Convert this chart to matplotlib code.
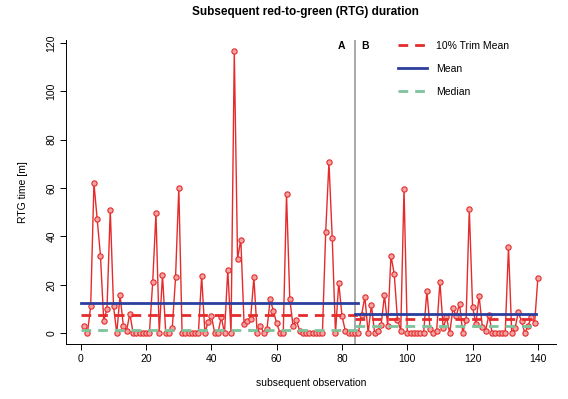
import numpy as np
import matplotlib
matplotlib.use("Agg")
import matplotlib.pyplot as plt

plt.rcParams["font.family"] = ["Liberation Sans", "DejaVu Sans"]

# RTG durations, segment A (obs 1-84) and segment B (obs 85-140)
rtg_a = [3, 0, 11, 62, 47, 32, 5, 10, 51, 11,
         0, 15.7, 3, 1, 8, 0, 0, 0, 0, 0,
         0, 21, 49.6, 0, 24, 0, 0, 2, 23, 60,
         0, 0, 0, 0, 0, 0, 23.7, 0, 4.7, 7,
         0, 0, 6.6, 0, 26, 0, 116.5, 30.7, 38.7, 3.6,
         5, 6, 23, 0, 3, 0, 1.5, 14, 9, 4,
         0, 0, 57.5, 14, 3, 5.5, 1, 0, 0, 0,
         0, 0, 0, 0, 41.7, 70.7, 39.5, 0, 20.8, 7,
         1, 0, 0, 0]
rtg_b = [0, 7.4, 15, 0, 11.6, 0, 1, 3.5, 15.7, 3,
         32, 24.4, 5.6, 1, 59.8, 0, 0, 0, 0, 0,
         0, 17.4, 1.5, 0, 1, 21.2, 2, 6.6, 0, 10.2,
         7, 12.2, 0, 5.4, 51.2, 10.9, 3.7, 15.3, 2.5, 1,
         7.6, 0, 0, 0, 0, 0, 35.5, 0, 2, 8.5,
         5, 0, 3, 6.5, 4, 22.6]

# summary levels per segment: (mean, 10% trim mean, median)
stats_a = (12.3, 7.6, 1.2)
stats_b = (8.0, 5.7, 3.0)
split_at = 84

rtg = np.array(rtg_a + rtg_b)
obs = np.arange(1, len(rtg) + 1)

fig = plt.figure(figsize=(5.68, 3.99), dpi=100)
ax = fig.add_axes([66 / 568, 1 - 344.3 / 399, 490 / 568, 304.1 / 399])

red = "#E52B2B"
blue = "#2B3E9E"
green = "#7CC49A"

ax.plot(obs, rtg, color=red, lw=1, marker="o", ms=3.8,
        mfc="#F4A3A3", mec=red, mew=0.8, zorder=3)

ax.axvline(split_at, color="#9A9A9A", lw=1.2, zorder=1)

# segment summary lines
segs = [(0, split_at + 1, stats_a), (split_at, obs[-1] - 0.5, stats_b)]
for i, (x0, x1, (mean, trim, med)) in enumerate(segs):
    ax.plot([x0, x1], [trim, trim], color=red, lw=2, dashes=(3.5, 2.5),
            label="10% Trim Mean" if i == 0 else None, zorder=4)
    ax.plot([x0, x1], [mean, mean], color=blue, lw=2,
            label="Mean" if i == 0 else None, zorder=4)
    ax.plot([x0, x1], [med, med], color=green, lw=2, dashes=(3.5, 2.5),
            label="Median" if i == 0 else None, zorder=4)

ax.text(79.7, 118.8, "A", fontsize=7.5, fontweight="bold", ha="center", va="center")
ax.text(87, 118.8, "B", fontsize=7.5, fontweight="bold", ha="center", va="center")

n = len(rtg)
pad_x = 0.04 * (n - 1)
pad_y = 0.04 * rtg.max()
ax.set_xlim(1 - pad_x, n + pad_x)
ax.set_ylim(-pad_y, rtg.max() + pad_y)

ax.set_xticks(np.arange(0, 141, 20))
ax.set_yticks(np.arange(0, 121, 20))
for lab in ax.get_yticklabels():
    lab.set_rotation(90)
    lab.set_va("center")
ax.tick_params(labelsize=7.5, length=4, width=0.7, direction="out", pad=3)
for side in ["top", "right"]:
    ax.spines[side].set_visible(False)
for side in ["left", "bottom"]:
    ax.spines[side].set_linewidth(0.7)

ax.set_xlabel("subsequent observation", fontsize=7.5, labelpad=10)
ax.set_ylabel("RTG time [m]", fontsize=7.5, labelpad=13)
fig.text(305 / 568, 1 - 12 / 399, "Subsequent red-to-green (RTG) duration",
         fontsize=8.5, fontweight="bold", ha="center", va="center")

ax.legend(loc="upper left", bbox_to_anchor=(398 / 568, 1 - 41 / 399),
          bbox_transform=fig.transFigure, frameon=False, fontsize=7.5,
          handlelength=2.8, handletextpad=0.86, labelspacing=1.25,
          borderpad=0, borderaxespad=0)

fig.savefig("out.png", dpi=100)
